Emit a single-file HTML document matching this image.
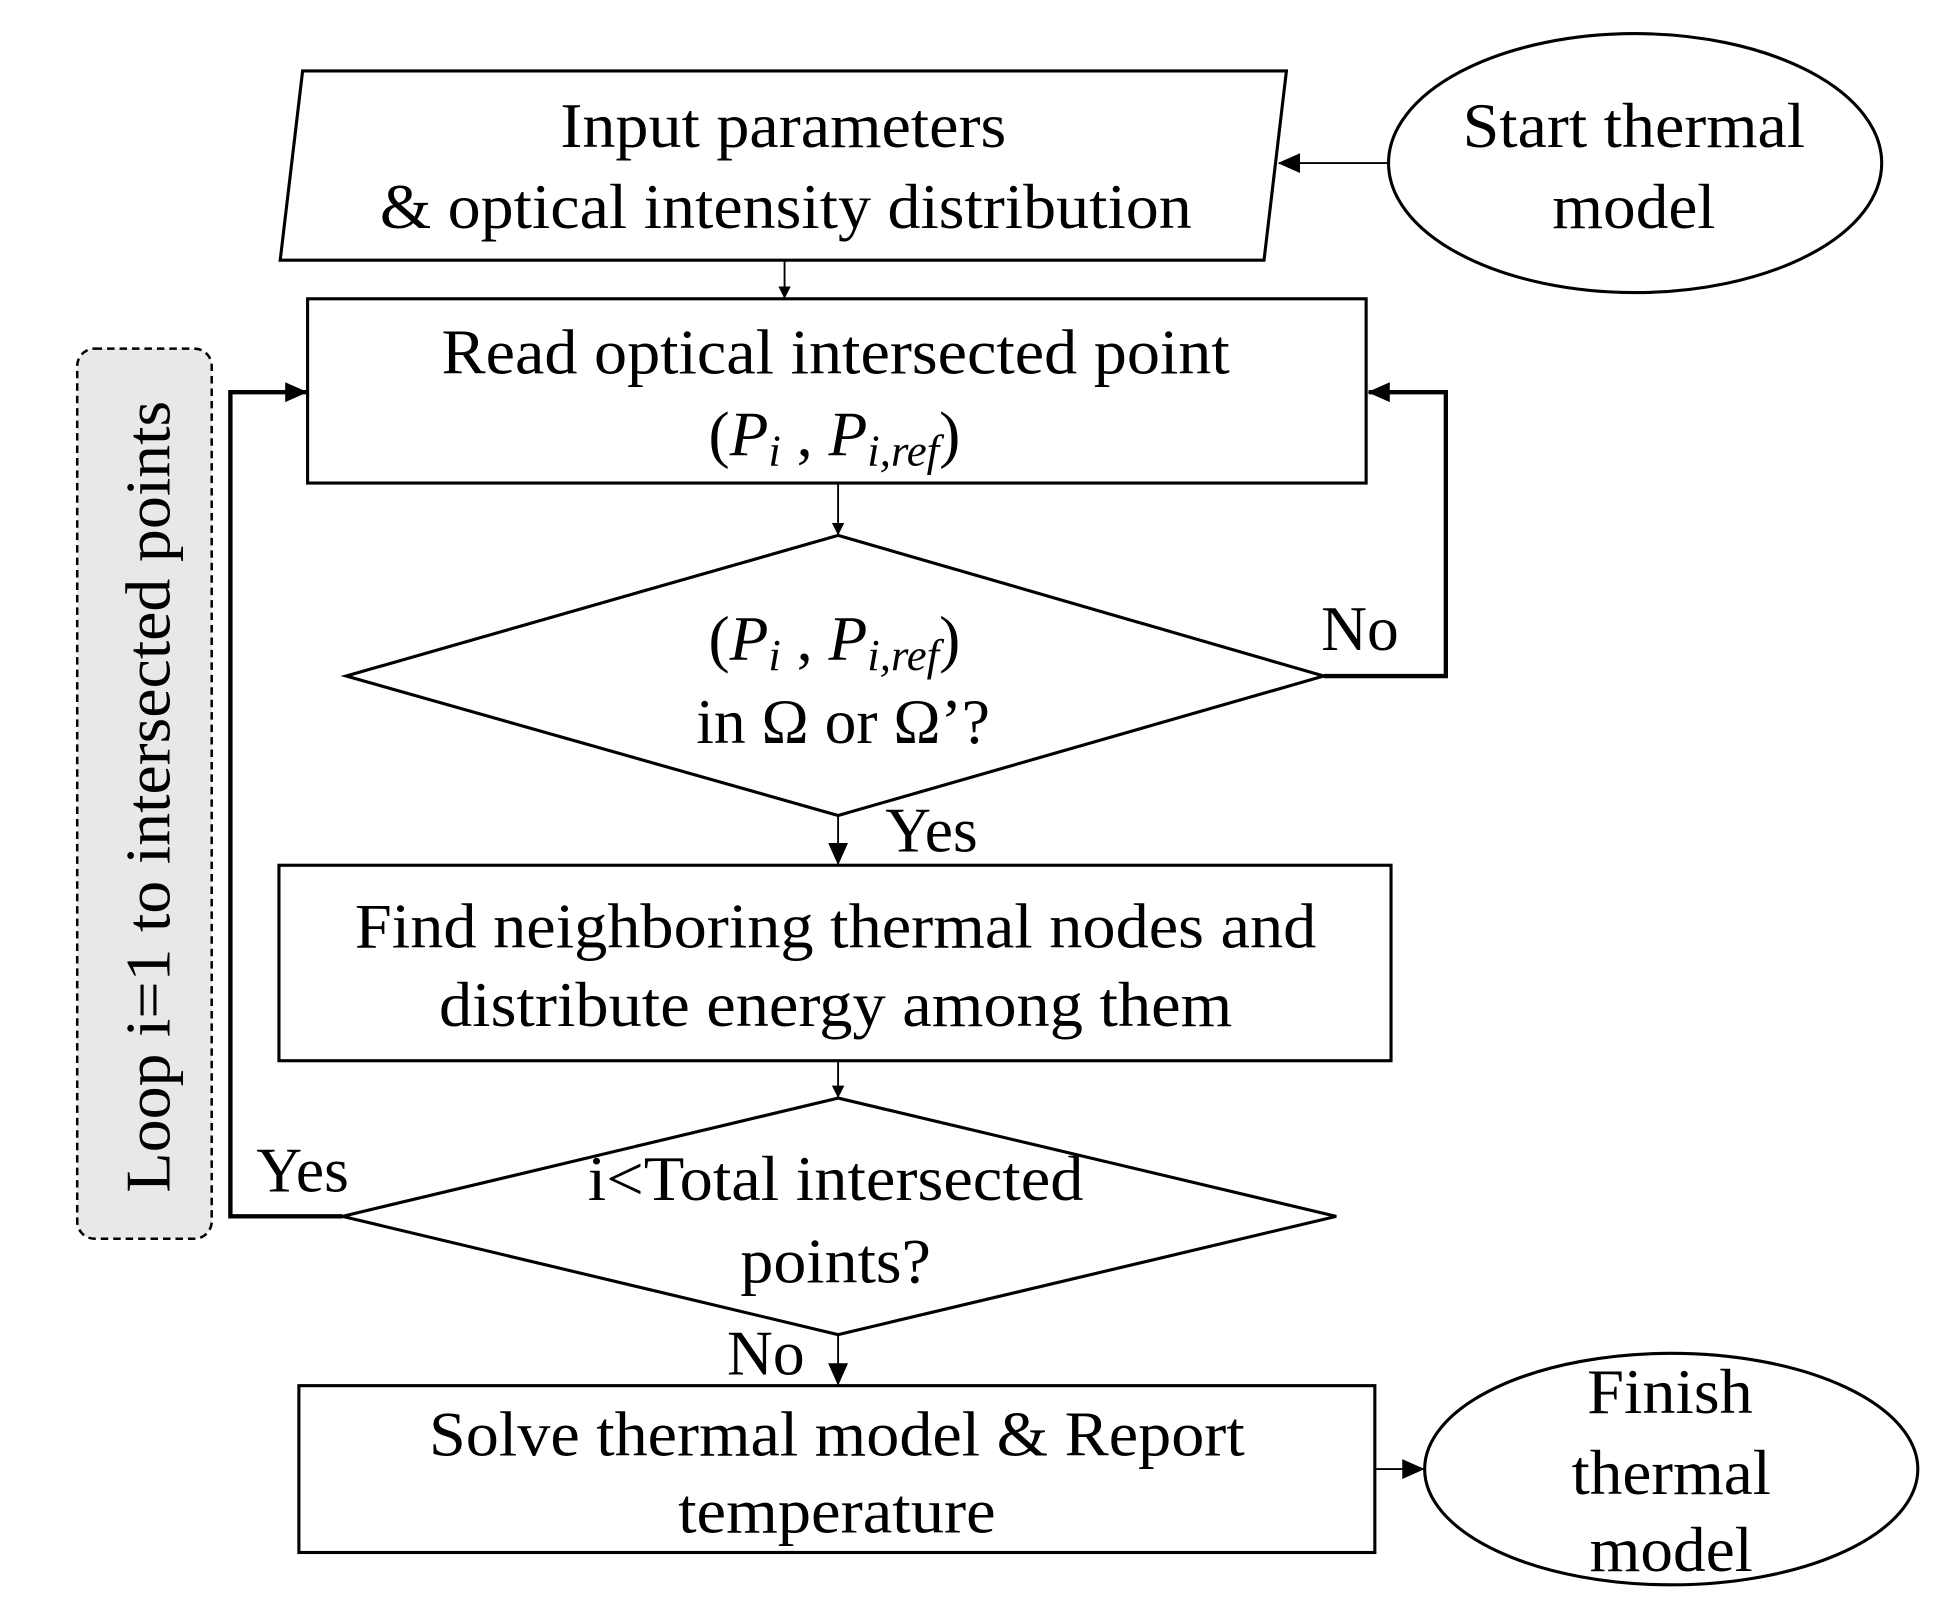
<!DOCTYPE html>
<html><head><meta charset="utf-8"><style>
html,body{margin:0;padding:0;background:#fff;}
svg{display:block;}
text{font-family:"Liberation Serif",serif;font-size:51px;fill:#000;}
.m{font-style:italic;}
</style></head><body>
<svg width="1934" height="1611" viewBox="0 0 1553 1294" preserveAspectRatio="none" xmlns="http://www.w3.org/2000/svg">
<defs>
<marker id="a" markerWidth="10" markerHeight="10" refX="9" refY="5" orient="auto" markerUnits="userSpaceOnUse" viewBox="0 0 10 10">
<path d="M0,0 L10,5 L0,10 z" fill="#000"/></marker>
<marker id="b" markerWidth="18" markerHeight="16" refX="17" refY="8" orient="auto" markerUnits="userSpaceOnUse" viewBox="0 0 18 16">
<path d="M0,0 L18,8 L0,16 z" fill="#000"/></marker>
</defs>
<g fill="none" stroke="#000" stroke-width="2.5">
<polygon points="243,57 1033,57 1015,209 225,209" fill="#fff"/>
<ellipse cx="1313" cy="131" rx="198" ry="104"/>
<rect x="247" y="240" width="850" height="148"/>
<polygon points="673,430 1063,543 673,655 278,543"/>
<rect x="224" y="695" width="893" height="157"/>
<polygon points="673,882 1073,977 673,1072 275,977"/>
<rect x="240" y="1113" width="864" height="134"/>
<ellipse cx="1342" cy="1180" rx="198" ry="93"/>
<rect x="62" y="280" width="108" height="715" rx="14" fill="#e8e8e8" stroke-dasharray="6,4" stroke-width="2"/>
</g>
<g stroke="#000" stroke-width="1.5" fill="none">
<line x1="1115" y1="131" x2="1027" y2="131" marker-end="url(#b)"/>
<line x1="630" y1="209" x2="630" y2="239" marker-end="url(#a)"/>
<line x1="673" y1="388" x2="673" y2="429" marker-end="url(#a)"/>
<line x1="673" y1="655" x2="673" y2="694" marker-end="url(#b)"/>
<line x1="673" y1="852" x2="673" y2="881" marker-end="url(#a)"/>
<line x1="673" y1="1072" x2="673" y2="1112" marker-end="url(#b)"/>
<line x1="1104" y1="1180" x2="1143" y2="1180" marker-end="url(#b)"/>
</g>
<g stroke="#000" stroke-width="3.5" fill="none">
<polyline points="1063,543 1161,543 1161,315 1099,315" marker-end="url(#b)"/>
<polyline points="275,977 185,977 185,315 246,315" marker-end="url(#b)"/>
</g>
<g text-anchor="middle">
<text x="629" y="118" textLength="358" lengthAdjust="spacingAndGlyphs">Input parameters</text>
<text x="631" y="183" textLength="652" lengthAdjust="spacingAndGlyphs">&amp; optical intensity distribution</text>
<text x="1312" y="118" textLength="275" lengthAdjust="spacingAndGlyphs">Start thermal</text>
<text x="1312" y="183" textLength="131" lengthAdjust="spacingAndGlyphs">model</text>
<text x="671" y="300" textLength="633" lengthAdjust="spacingAndGlyphs">Read optical intersected point</text>
<text x="670" y="366">(<tspan class="m">P</tspan><tspan class="m" font-size="36" dy="8">i</tspan><tspan dy="-8"> , </tspan><tspan class="m">P</tspan><tspan class="m" font-size="36" dy="8">i,ref</tspan><tspan dy="-8">)</tspan></text>
<text x="670" y="530">(<tspan class="m">P</tspan><tspan class="m" font-size="36" dy="8">i</tspan><tspan dy="-8"> , </tspan><tspan class="m">P</tspan><tspan class="m" font-size="36" dy="8">i,ref</tspan><tspan dy="-8">)</tspan></text>
<text x="677" y="597">in Ω or Ω’?</text>
<text x="671" y="761" textLength="772" lengthAdjust="spacingAndGlyphs">Find neighboring thermal nodes and</text>
<text x="671" y="824" textLength="637" lengthAdjust="spacingAndGlyphs">distribute energy among them</text>
<text x="671" y="964" textLength="398" lengthAdjust="spacingAndGlyphs">i&lt;Total intersected</text>
<text x="671" y="1030" textLength="153" lengthAdjust="spacingAndGlyphs">points?</text>
<text x="672" y="1169" textLength="655" lengthAdjust="spacingAndGlyphs">Solve thermal model &amp; Report</text>
<text x="672" y="1231" textLength="255" lengthAdjust="spacingAndGlyphs">temperature</text>
<text x="1341" y="1135" textLength="133" lengthAdjust="spacingAndGlyphs">Finish</text>
<text x="1342" y="1200" textLength="160" lengthAdjust="spacingAndGlyphs">thermal</text>
<text x="1342" y="1262" textLength="131" lengthAdjust="spacingAndGlyphs">model</text>
<text x="1092" y="522">No</text>
<text x="748" y="684">Yes</text>
<text x="243" y="957">Yes</text>
<text x="615" y="1104">No</text>
<text x="0" y="0" transform="translate(136,640) rotate(-90)" textLength="636" lengthAdjust="spacingAndGlyphs">Loop i=1 to intersected points</text>
</g>
</svg>
</body></html>
